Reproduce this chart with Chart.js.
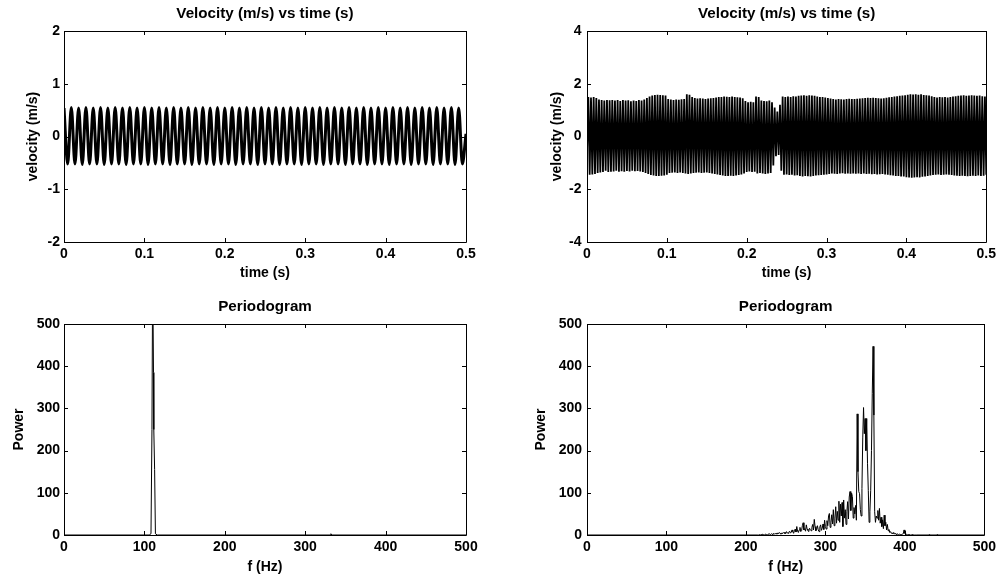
<!DOCTYPE html>
<html>
<head>
<meta charset="utf-8">
<script src="https://cdn.jsdelivr.net/npm/chart.js@4.4.1/dist/chart.umd.min.js"></script>
<style>
  html, body { margin: 0; padding: 0; background: #fff; }
  #wrap { position: relative; width: 1000px; height: 581px; overflow: hidden; }
  canvas { position: absolute; }
</style>
</head>
<body>
<div id="wrap">
  <canvas id="tl" width="500" height="290" style="left:0;top:0;width:500px;height:290px"></canvas>
  <canvas id="tr" width="500" height="290" style="left:500px;top:0;width:500px;height:290px"></canvas>
  <canvas id="bl" width="500" height="291" style="left:0;top:290px;width:500px;height:291px"></canvas>
  <canvas id="br" width="500" height="291" style="left:500px;top:290px;width:500px;height:291px"></canvas>
</div>
<script>
// ---------------- DATA ----------------
const TIME_TICKS = [0, 0.1, 0.2, 0.3, 0.4, 0.5];
const FREQ_TICKS = [0, 100, 200, 300, 400, 500];
const TL_Y_TICKS = [-2, -1, 0, 1, 2];
const TR_Y_TICKS = [-4, -2, 0, 2, 4];
const POWER_TICKS = [0, 100, 200, 300, 400, 500];

// Left velocity signal: successive peaks / troughs (sample spacing TL_DT seconds)
const TL_DT = 1 / 220;
const TL_VELOCITY = [
  0.54,-0.52,0.55,-0.52,0.54,-0.53,0.55,-0.52,0.54,-0.52,
  0.55,-0.53,0.54,-0.52,0.55,-0.52,0.54,-0.53,0.55,-0.52,
  0.54,-0.52,0.55,-0.53,0.54,-0.52,0.55,-0.52,0.54,-0.53,
  0.55,-0.52,0.54,-0.52,0.55,-0.53,0.54,-0.52,0.55,-0.52,
  0.54,-0.53,0.55,-0.52,0.54,-0.52,0.55,-0.53,0.54,-0.52,
  0.55,-0.52,0.54,-0.53,0.55,-0.52,0.54,-0.52,0.55,-0.53,
  0.54,-0.52,0.55,-0.52,0.54,-0.53,0.55,-0.52,0.54,-0.52,
  0.55,-0.53,0.54,-0.52,0.55,-0.52,0.54,-0.53,0.55,-0.52,
  0.54,-0.52,0.55,-0.53,0.54,-0.52,0.55,-0.52,0.54,-0.53,
  0.55,-0.52,0.54,-0.52,0.55,-0.53,0.54,-0.52,0.55,-0.52,
  0.54,-0.53,0.55,-0.52,0.54,-0.52,0.55,-0.53,0.54,-0.52,
  0.05
];

// Right velocity signal: successive peaks / troughs (sample spacing TR_DT seconds)
const TR_DT = 1 / 600;
const TR_VELOCITY = [
  -0.60,1.50,-1.45,1.48,-1.44,1.50,-1.42,1.46,-1.38,1.40,-1.36,1.38,-1.35,1.36,-1.30,1.38,-1.35,1.37,-1.34,1.38,
  -1.33,1.36,-1.30,1.38,-1.34,1.35,-1.32,1.38,-1.34,1.36,-1.31,1.37,-1.33,1.34,-1.30,1.36,-1.32,1.35,-1.31,1.38,
  -1.33,1.36,-1.35,1.40,-1.38,1.46,-1.42,1.52,-1.46,1.55,-1.48,1.57,-1.50,1.58,-1.50,1.57,-1.49,1.56,-1.48,1.55,
  -1.45,1.42,-1.38,1.40,-1.37,1.38,-1.36,1.40,-1.38,1.39,-1.36,1.41,-1.38,1.42,-1.40,1.60,-1.42,1.58,-1.40,1.50,
  -1.38,1.46,-1.37,1.44,-1.36,1.45,-1.38,1.44,-1.37,1.42,-1.36,1.44,-1.38,1.45,-1.40,1.46,-1.42,1.48,-1.44,1.50,
  -1.46,1.50,-1.48,1.52,-1.50,1.51,-1.50,1.50,-1.49,1.52,-1.50,1.50,-1.48,1.49,-1.46,1.48,-1.44,1.45,-1.40,1.35,
  -1.35,1.30,-1.33,1.32,-1.35,1.30,-1.34,1.52,-1.40,1.50,-1.38,1.36,-1.40,1.35,-1.42,1.34,-1.40,1.36,-1.38,1.30,
  -1.10,1.10,-0.75,0.95,-0.70,1.20,-1.30,1.52,-1.45,1.50,-1.44,1.52,-1.46,1.50,-1.45,1.53,-1.48,1.52,-1.47,1.54,
  -1.50,1.55,-1.52,1.56,-1.50,1.54,-1.51,1.56,-1.52,1.55,-1.50,1.54,-1.48,1.52,-1.47,1.50,-1.46,1.50,-1.45,1.48,
  -1.44,1.46,-1.42,1.44,-1.40,1.42,-1.41,1.40,-1.42,1.42,-1.40,1.41,-1.39,1.40,-1.41,1.42,-1.40,1.43,-1.41,1.42,
  -1.40,1.42,-1.41,1.43,-1.40,1.44,-1.42,1.45,-1.40,1.46,-1.42,1.47,-1.41,1.46,-1.43,1.47,-1.42,1.46,-1.44,1.45,
  -1.43,1.44,-1.42,1.45,-1.44,1.47,-1.45,1.49,-1.47,1.50,-1.48,1.52,-1.50,1.53,-1.50,1.54,-1.52,1.55,-1.52,1.56,
  -1.54,1.58,-1.55,1.60,-1.56,1.59,-1.55,1.60,-1.54,1.58,-1.55,1.60,-1.53,1.57,-1.52,1.56,-1.50,1.55,-1.48,1.53,
  -1.46,1.50,-1.45,1.48,-1.44,1.50,-1.46,1.49,-1.45,1.50,-1.44,1.48,-1.45,1.50,-1.46,1.52,-1.48,1.53,-1.49,1.54,
  -1.50,1.55,-1.49,1.56,-1.50,1.54,-1.51,1.55,-1.50,1.56,-1.49,1.55,-1.50,1.54,-1.48,1.55,-1.50,1.53,-1.49,1.52,
  -1.45
];

// Left periodogram (frequency in Hz, power)
const BL_FREQ  = [0, 106, 108.2, 109.4, 110.3, 111.3, 111.7, 112.7, 113.7, 116, 331, 332, 333, 500];
const BL_POWER = [0,   0,     3,   250,   640,   385,   250,   155,     3,   0,   0,   3,   0,   0];

// Right periodogram: dense band from BR_F_START Hz in 1 Hz steps, plus flat parts
const BR_HEAD_F = [0, 215];
const BR_HEAD_P = [0, 0];
const BR_F_START = 216;
const BR_POWER = [
  0,1,0,1,0,2,1,0,1,2,
  1,0,2,3,2,1,3,2,1,4,
  2,3,4,2,5,3,6,4,2,5,
  3,6,4,7,3,8,5,4,7,9,
  5,6,12,8,4,10,14,7,20,9,
  6,12,18,8,10,22,29,12,15,9,
  24,14,11,8,16,13,10,18,25,12,
  37,20,10,14,22,12,8,19,24,11,
  16,26,13,35,20,14,34,22,45,51,
  18,30,48,26,60,22,40,67,28,56,
  35,80,30,73,45,77,20,83,40,60,
  25,55,79,38,90,103,58,99,91,40,
  65,50,70,35,287,150,103,98,60,45,
  110,230,302,240,276,200,276,170,105,30,
  55,105,200,336,447,284,55,30,45,40,
  58,35,63,28,42,20,36,15,47,22,
  30,12,25,10,13,6,8,4,5,3,
  6,2,4,1,3,2,1,2,1,0,
  1,2,3,12,4,1,2,0,1,0,
  1,0,0,1,0,0,0,0,0
];
const BR_TAIL_F = [415, 430, 431, 432, 440, 441, 442, 500];
const BR_TAIL_P = [0, 0, 2, 0, 0, 2, 0, 0];

// ---------------- BUILD POINTS ----------------
const tlPts = TL_VELOCITY.map((v, i) => ({ x: i * TL_DT, y: v }));
const trPts = TR_VELOCITY.map((v, i) => ({ x: i * TR_DT, y: v }));
const blPts = BL_FREQ.map((f, i) => ({ x: f, y: BL_POWER[i] }));
const brPts = []
  .concat(BR_HEAD_F.map((f, i) => ({ x: f, y: BR_HEAD_P[i] })))
  .concat(BR_POWER.map((p, i) => ({ x: BR_F_START + i, y: p })))
  .concat(BR_TAIL_F.map((f, i) => ({ x: f, y: BR_TAIL_P[i] })));

// ---------------- CHART SETUP ----------------
const FONT = "'Liberation Sans', Arial, Helvetica, sans-serif";
Chart.defaults.color = '#000';
Chart.defaults.font.family = FONT;

const matlabAxes = {
  id: 'matlabAxes',
  afterDatasetsDraw(chart) {
    const { ctx, chartArea: a, scales } = chart;
    const x = scales.x, y = scales.y;
    const L = Math.round(a.left), R = Math.round(a.right), T = Math.round(a.top), B = Math.round(a.bottom);
    ctx.save();
    ctx.strokeStyle = '#000';
    ctx.lineWidth = 1;
    ctx.beginPath();
    ctx.rect(L + 0.5, T + 0.5, R - L, B - T);
    const tk = 4;
    x.ticks.forEach(t => {
      const px = Math.round(x.getPixelForValue(t.value)) + 0.5;
      ctx.moveTo(px, T); ctx.lineTo(px, T + tk);
      ctx.moveTo(px, B); ctx.lineTo(px, B - tk);
    });
    y.ticks.forEach(t => {
      const py = Math.round(y.getPixelForValue(t.value)) + 0.5;
      ctx.moveTo(L, py); ctx.lineTo(L + tk, py);
      ctx.moveTo(R, py); ctx.lineTo(R - tk, py);
    });
    ctx.stroke();
    ctx.restore();
  }
};

function makeChart(id, o) {
  return new Chart(document.getElementById(id), {
    type: 'line',
    data: {
      datasets: [{
        data: o.points,
        borderColor: '#000',
        borderWidth: o.lineWidth,
        pointRadius: 0,
        fill: false,
        tension: o.monotone ? 0.4 : 0,
        cubicInterpolationMode: o.monotone ? 'monotone' : 'default',
        borderJoinStyle: 'bevel'
      }]
    },
    options: {
      responsive: false,
      animation: false,
      devicePixelRatio: 1,
      layout: { padding: { left: 0, right: o.rightPad, top: 0, bottom: 0 } },
      plugins: {
        legend: { display: false },
        tooltip: { enabled: false },
        title: {
          display: true,
          text: o.title,
          fullSize: false,
          color: '#000',
          font: { family: FONT, size: 15.2, weight: 'bold', lineHeight: 1.2 },
          padding: { top: o.titlePadTop, bottom: o.titlePadBottom }
        }
      },
      scales: {
        x: {
          type: 'linear',
          min: o.xMin, max: o.xMax,
          afterBuildTicks: s => { s.ticks = o.xTicks.map(v => ({ value: v })); },
          afterFit: s => { s.height = o.xAxisHeight; },
          grid: { display: false, drawTicks: false },
          border: { display: false },
          ticks: {
            autoSkip: false, maxRotation: 0, padding: 4,
            font: { family: FONT, size: 14, weight: 'bold', lineHeight: 1.2 },
            callback: v => String(v)
          },
          title: {
            display: true, text: o.xTitle,
            font: { family: FONT, size: 14, weight: 'bold', lineHeight: 1.2 },
            padding: { top: 0, bottom: o.xTitlePadBottom }
          }
        },
        y: {
          type: 'linear',
          min: o.yMin, max: o.yMax,
          afterBuildTicks: s => { s.ticks = o.yTicks.map(v => ({ value: v })); },
          afterFit: s => { s.width = o.yAxisWidth; },
          grid: { display: false, drawTicks: false },
          border: { display: false },
          ticks: {
            autoSkip: false, padding: o.yTickPad,
            font: { family: FONT, size: 14, weight: 'bold', lineHeight: 1.2 },
            callback: v => String(v)
          },
          title: {
            display: true, text: o.yTitle,
            font: { family: FONT, size: 14, weight: 'bold', lineHeight: 1.2 },
            padding: { top: o.yTitlePad, bottom: 0 }
          }
        }
      }
    },
    plugins: [matlabAxes]
  });
}

makeChart('tl', {
  points: tlPts, lineWidth: 3, monotone: true,
  title: 'Velocity (m/s) vs time (s)', titlePadTop: 4.2, titlePadBottom: 8.56,
  xTitle: 'time (s)', yTitle: 'velocity (m/s)',
  xMin: 0, xMax: 0.5, xTicks: TIME_TICKS,
  yMin: -2, yMax: 2, yTicks: TL_Y_TICKS,
  yAxisWidth: 64, yTitlePad: 24.6, yTickPad: 4,
  xAxisHeight: 48, xTitlePadBottom: 8.3, rightPad: 34
});

makeChart('tr', {
  points: trPts, lineWidth: 1.8, monotone: false,
  title: 'Velocity (m/s) vs time (s)', titlePadTop: 4.2, titlePadBottom: 8.56,
  xTitle: 'time (s)', yTitle: 'velocity (m/s)',
  xMin: 0, xMax: 0.5, xTicks: TIME_TICKS,
  yMin: -4, yMax: 4, yTicks: TR_Y_TICKS,
  yAxisWidth: 87, yTitlePad: 48.6, yTickPad: 5.5,
  xAxisHeight: 48, xTitlePadBottom: 8.3, rightPad: 13
});

makeChart('bl', {
  points: blPts, lineWidth: 1, monotone: false,
  title: 'Periodogram', titlePadTop: 7.6, titlePadBottom: 8.16,
  xTitle: 'f (Hz)', yTitle: 'Power',
  xMin: 0, xMax: 500, xTicks: FREQ_TICKS,
  yMin: 0, yMax: 500, yTicks: POWER_TICKS,
  yAxisWidth: 64, yTitlePad: 10.3, yTickPad: 4,
  xAxisHeight: 46, xTitlePadBottom: 5.9, rightPad: 34
});

makeChart('br', {
  points: brPts, lineWidth: 1, monotone: false,
  title: 'Periodogram', titlePadTop: 7.6, titlePadBottom: 8.16,
  xTitle: 'f (Hz)', yTitle: 'Power',
  xMin: 0, xMax: 500, xTicks: FREQ_TICKS,
  yMin: 0, yMax: 500, yTicks: POWER_TICKS,
  yAxisWidth: 87, yTitlePad: 32.4, yTickPad: 5,
  xAxisHeight: 46, xTitlePadBottom: 5.9, rightPad: 13
});
</script>
</body>
</html>
